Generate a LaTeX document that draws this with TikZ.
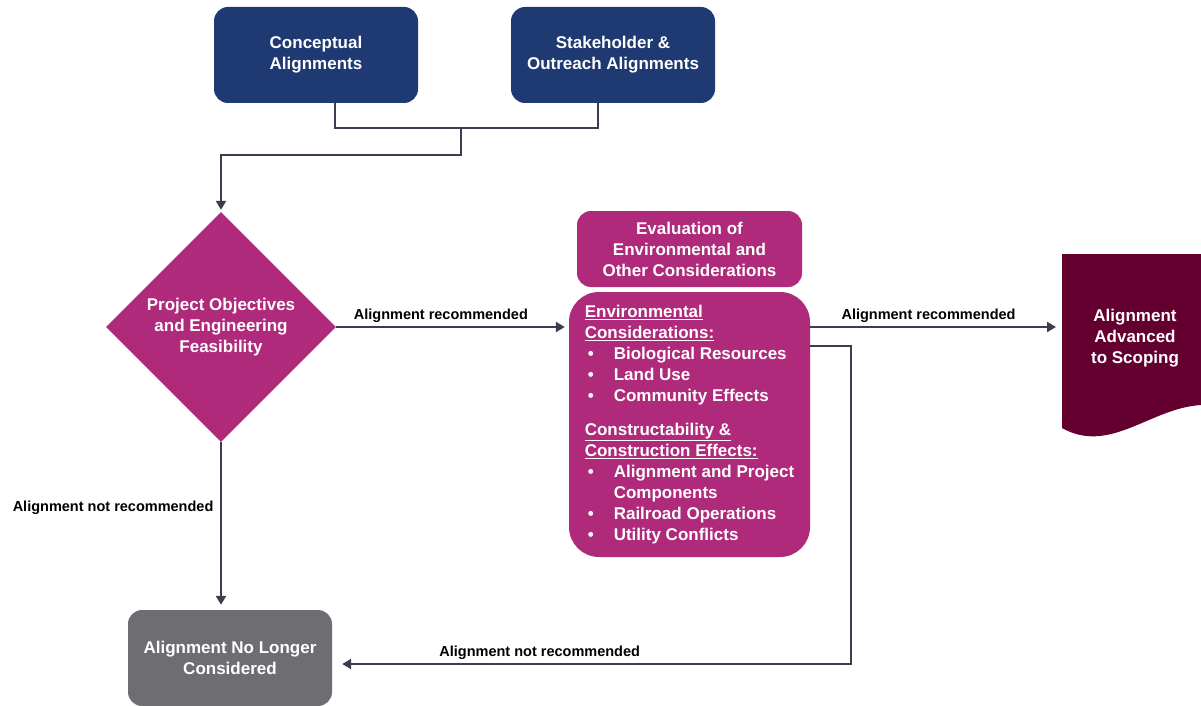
\documentclass[tikz,border=0pt]{standalone}
\usepackage{fontspec}
\setmainfont{Liberation Sans}
\usetikzlibrary{shapes.geometric,arrows.meta}
\definecolor{navyblue}{HTML}{1F3A72}
\definecolor{plum}{HTML}{AF2A7A}
\definecolor{wine}{HTML}{64002F}
\definecolor{slate}{HTML}{6E6E72}
\definecolor{linegray}{HTML}{3B3F4D}

\begin{document}
\begin{tikzpicture}[x=1pt, y=-1pt,
	txt/.style={text=white, font=\bfseries\fontsize{17}{21}\selectfont, align=center},
	box/.style={txt, rounded corners=14pt, inner sep=0pt},
	flow/.style={draw=linegray, line width=2.6pt, -{Triangle[length=9pt,width=10pt]}},
	link/.style={draw=linegray, line width=2.6pt},
	note/.style={text=black, font=\bfseries\fontsize{14.5}{17}\selectfont}]
	\useasboundingbox (0,0) rectangle (1201,706);

	\node[box, fill=navyblue, minimum width=204pt, minimum height=96pt] (concept) at (316,55) {Conceptual\\Alignments};
	\node[box, fill=navyblue, minimum width=204pt, minimum height=96pt] (stake) at (613,55) {Stakeholder \&\\Outreach Alignments};

	\node[txt, diamond, fill=plum, minimum width=230pt, minimum height=230pt, inner sep=0pt] (decide) at (221,327) {Project Objectives\\and Engineering\\Feasibility};

	\node[box, fill=plum, minimum width=225pt, minimum height=76pt] (evalhead) at (689.5,249) {Evaluation of\\Environmental and\\Other Considerations};
	\node[box, fill=plum, rounded corners=30pt, align=left, minimum width=241pt, minimum height=265pt] (envbox) at (689.5,424.5)
		{\fontsize{17}{20.8}\selectfont
		\underline{Environmental}\\
		\underline{Considerations:}\\
		\hspace*{3pt}\makebox[26pt][l]{•}Biological Resources\\
		\hspace*{3pt}\makebox[26pt][l]{•}Land Use\\
		\hspace*{3pt}\makebox[26pt][l]{•}Community Effects\\[13pt]
		\underline{Constructability \&}\\
		\underline{Construction Effects:}\\
		\hspace*{3pt}\makebox[26pt][l]{•}Alignment and Project\\
		\hspace*{29pt}Components\\
		\hspace*{3pt}\makebox[26pt][l]{•}Railroad Operations\\
		\hspace*{3pt}\makebox[26pt][l]{•}Utility Conflicts};

	\fill[wine] (1062,254) -- (1201,254) -- (1201,405) .. controls (1150,408) and (1110,455) .. (1062,428) -- cycle;
	\node[txt] (scope) at (1135,338) {Alignment\\Advanced\\to Scoping};

	\node[box, fill=slate, minimum width=204pt, minimum height=96pt] (drop) at (230,658) {Alignment No Longer\\Considered};

	\coordinate (join) at (461,128);
	\coordinate (bend) at (461,155);
	\coordinate (scopein) at (1062,327);
	\coordinate (turn) at (851,346);

	\draw[link] ([xshift=19pt]concept.south) |- (join) -| ([xshift=-15pt]stake.south);
	\draw[flow, shorten >=2pt] (join) -- (bend) -| (decide.north);
	\draw[flow, shorten >=4pt] (decide.east) -- (decide.east -| envbox.west) node[note, pos=0.45, above]{Alignment recommended};
	\draw[flow, shorten >=6pt] (envbox.east |- scopein) -- (scopein) node[note, pos=0.47, above]{Alignment recommended};
	\draw[flow, shorten >=10pt] (envbox.east |- turn) -- (turn) |- ([yshift=-6pt]drop.east) node[note, pos=0.8, above]{Alignment not recommended};
	\draw[flow, shorten >=5pt] (decide.south) -- (decide.south |- drop.north) node[note, pos=0.39, left=3pt]{Alignment not recommended};
\end{tikzpicture}
\end{document}
